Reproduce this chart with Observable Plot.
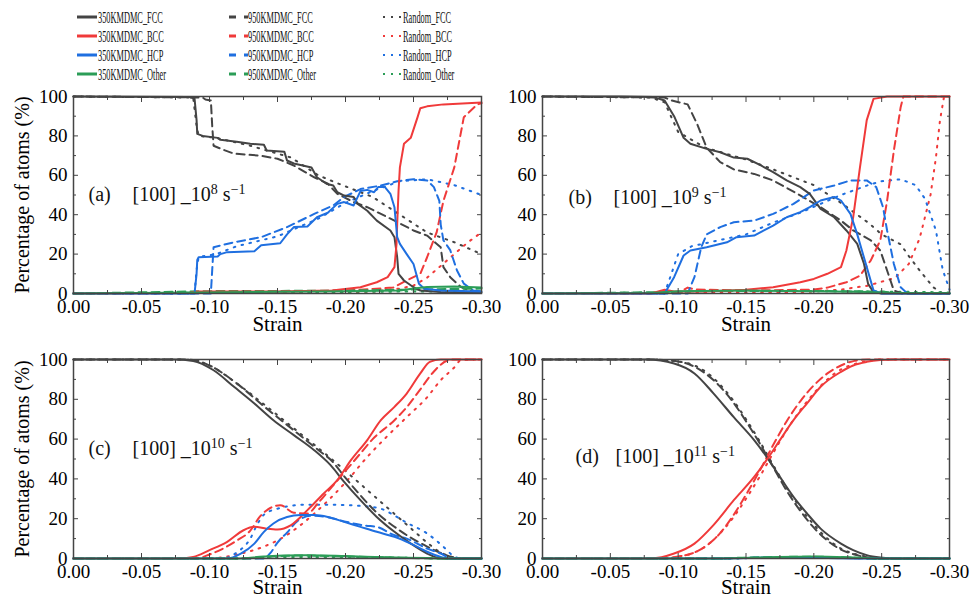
<!DOCTYPE html>
<html><head><meta charset="utf-8">
<script src="https://cdn.jsdelivr.net/npm/d3@7"></script>
<script src="https://cdn.jsdelivr.net/npm/@observablehq/plot@0.6"></script>
<style>
body{margin:0;background:#fff;}
#root{position:relative;width:973px;height:603px;overflow:hidden;font-family:"Liberation Serif","Times New Roman",serif;}
#root > svg{position:absolute;}
</style></head><body><div id="root"></div>
<script>
// ---------- categories ----------
const conditions = ["350KMDMC", "950KMDMC", "Random"];
const phases = ["FCC", "BCC", "HCP", "Other"];
const phaseColors = ["#444444", "#f03a3a", "#1f6fe0", "#2b9d57"];
const conditionDash = [null, "8,5", "1.6,6.5"];
const xMajor = [0, -0.05, -0.10, -0.15, -0.20, -0.25, -0.30];
const xMinor = [-0.025, -0.075, -0.125, -0.175, -0.225, -0.275];
const yMajor = [0, 20, 40, 60, 80, 100];
const yMinor = [10, 30, 50, 70, 90];
const panelTags = ["(a)", "(b)", "(c)", "(d)"];
const rateBase = "[100] _10";
const rateExps = ["8", "9", "10", "11"];
const rateUnit = " s";
const rateUnitExp = "\u22121";
const xLabel = "Strain";
const yLabel = "Percentage of atoms (%)";

// ---------- series: [strain, percentage] ----------
// panel (a) 10^8
const a350FCC = [[0,100],[-0.085,99.8],[-0.089,99],[-0.0905,88],[-0.091,81],[-0.095,80],[-0.106,79],[-0.108,78],[-0.12,77],[-0.13,76],[-0.14,75.5],[-0.142,72.6],[-0.155,72],[-0.157,67.5],[-0.162,66],[-0.175,64],[-0.179,59],[-0.186,55.7],[-0.191,54.8],[-0.194,51.4],[-0.199,49.7],[-0.206,49],[-0.209,45.5],[-0.216,42],[-0.223,37],[-0.233,32],[-0.236,28.6],[-0.238,18.4],[-0.239,10],[-0.243,6.6],[-0.25,3.2],[-0.255,1.5],[-0.27,0.8],[-0.3,0.5]];
const a350BCC = [[0,0],[-0.085,0.3],[-0.09,1],[-0.15,1],[-0.19,1.5],[-0.211,3.2],[-0.223,5.7],[-0.231,8.3],[-0.236,13.4],[-0.2375,25],[-0.238,35],[-0.239,52],[-0.24,64],[-0.243,76],[-0.248,79],[-0.253,89.5],[-0.255,94],[-0.26,95],[-0.272,96],[-0.3,97]];
const a350HCP = [[0,0],[-0.089,0],[-0.0905,10],[-0.091,17],[-0.092,18.4],[-0.106,18.8],[-0.108,20],[-0.113,21],[-0.133,21.5],[-0.138,24.5],[-0.152,25.5],[-0.157,30],[-0.162,33.7],[-0.172,34],[-0.179,38.7],[-0.187,41],[-0.194,45.5],[-0.199,46.4],[-0.206,44.7],[-0.211,52],[-0.216,52.6],[-0.221,51.4],[-0.224,54],[-0.229,54],[-0.233,50.6],[-0.236,43.8],[-0.238,28.6],[-0.24,25.2],[-0.245,20],[-0.25,15],[-0.254,4.9],[-0.258,2.4],[-0.27,1.5],[-0.3,1]];
const a350Other = [[0,0],[-0.09,0.5],[-0.2,1.2],[-0.24,1.5],[-0.25,2.5],[-0.26,3.3],[-0.28,3.5],[-0.3,3]];
const a950FCC = [[0,100],[-0.095,99.5],[-0.097,98.5],[-0.101,98],[-0.102,85],[-0.103,75],[-0.11,73],[-0.118,71],[-0.137,70],[-0.15,68.4],[-0.162,65],[-0.177,59],[-0.187,55.7],[-0.194,50.6],[-0.206,46.4],[-0.216,43.8],[-0.236,37],[-0.25,32],[-0.26,29.4],[-0.27,23.5],[-0.272,13.4],[-0.277,8.3],[-0.285,3.2],[-0.294,0.7],[-0.3,0.3]];
const a950BCC = [[0,0],[-0.1,0.5],[-0.2,1.5],[-0.235,3],[-0.245,6.6],[-0.255,10],[-0.26,18.4],[-0.267,31],[-0.272,47],[-0.28,64],[-0.287,89.5],[-0.297,96],[-0.3,96.5]];
const a950HCP = [[0,0],[-0.101,0],[-0.102,12],[-0.103,23.5],[-0.106,24],[-0.118,26],[-0.138,28.6],[-0.157,33.7],[-0.177,40.4],[-0.191,44.7],[-0.199,49],[-0.211,53],[-0.226,54.8],[-0.238,57],[-0.25,58],[-0.26,57.4],[-0.265,54],[-0.269,47],[-0.27,35],[-0.272,27],[-0.277,22],[-0.282,11.7],[-0.287,5],[-0.294,1.5],[-0.3,1]];
const a950Other = [[0,0],[-0.1,1.2],[-0.15,1.3],[-0.2,1.5],[-0.25,2],[-0.3,2.5]];
const aRndFCC = [[0,100],[-0.088,99.5],[-0.0905,85],[-0.092,80],[-0.105,79],[-0.13,75],[-0.16,69],[-0.18,60],[-0.194,56],[-0.22,49],[-0.24,40],[-0.26,31],[-0.28,26],[-0.3,20]];
const aRndBCC = [[0,0],[-0.2,0.5],[-0.22,1],[-0.24,2.5],[-0.25,4],[-0.26,8],[-0.27,14],[-0.28,20],[-0.29,26],[-0.3,31]];
const aRndHCP = [[0,0],[-0.089,0],[-0.0905,12],[-0.092,18.5],[-0.105,20],[-0.12,24],[-0.15,29],[-0.18,38],[-0.2,46],[-0.22,52],[-0.24,57],[-0.26,58],[-0.28,55],[-0.3,50]];
const aRndOther = [[0,0],[-0.09,0.4],[-0.2,0.8],[-0.3,1.2]];
// panel (b) 10^9
const b350FCC = [[0,100],[-0.058,100],[-0.082,99.7],[-0.09,98],[-0.097,90],[-0.104,79],[-0.109,76],[-0.121,73.4],[-0.131,71.7],[-0.141,69],[-0.151,68.4],[-0.161,65],[-0.17,61.6],[-0.18,57.4],[-0.19,54],[-0.197,50.6],[-0.205,43],[-0.215,38.7],[-0.224,32],[-0.232,25.2],[-0.237,15],[-0.24,4.9],[-0.244,0.7],[-0.25,0],[-0.3,0]];
const b350BCC = [[0,0],[-0.08,0],[-0.09,1.9],[-0.097,1],[-0.12,1],[-0.15,1.9],[-0.17,3.2],[-0.19,5.7],[-0.2,7.4],[-0.21,10],[-0.22,13.4],[-0.224,21.8],[-0.229,38.7],[-0.234,64],[-0.239,88],[-0.244,98.8],[-0.254,100],[-0.3,100]];
const b350HCP = [[0,0],[-0.09,0],[-0.097,8.3],[-0.104,19.3],[-0.109,21.8],[-0.121,23.5],[-0.136,26],[-0.143,28.6],[-0.156,29.4],[-0.17,34.5],[-0.18,38.7],[-0.19,41.3],[-0.197,43.8],[-0.205,47.2],[-0.215,49],[-0.22,47.2],[-0.227,40.4],[-0.232,30],[-0.239,13.4],[-0.244,1.5],[-0.25,0],[-0.3,0]];
const b350Other = [[0,0],[-0.08,0.3],[-0.1,1.2],[-0.15,1.5],[-0.2,1.2],[-0.24,0.8],[-0.26,0.3],[-0.3,0.2]];
const b950FCC = [[0,100],[-0.09,99.5],[-0.095,98],[-0.107,96],[-0.114,86],[-0.121,74],[-0.131,66.7],[-0.141,63],[-0.156,60.7],[-0.17,57.4],[-0.188,50.6],[-0.205,43.8],[-0.22,37],[-0.229,32],[-0.242,27],[-0.249,21.8],[-0.254,11.7],[-0.259,1.5],[-0.265,0],[-0.3,0]];
const b950BCC = [[0,0],[-0.1,0.3],[-0.107,3],[-0.112,2],[-0.15,1.5],[-0.2,2],[-0.21,3],[-0.224,5.7],[-0.234,9],[-0.242,16.8],[-0.249,27],[-0.254,47],[-0.259,72.6],[-0.264,94.6],[-0.266,100],[-0.3,100]];
const b950HCP = [[0,0],[-0.107,0],[-0.112,8.3],[-0.117,23.5],[-0.121,30],[-0.131,33.7],[-0.141,36.2],[-0.156,37],[-0.17,40.4],[-0.185,45.5],[-0.2,52.3],[-0.215,54.8],[-0.227,57.4],[-0.239,57.4],[-0.246,54],[-0.251,43.8],[-0.254,32],[-0.259,15],[-0.264,3.2],[-0.269,0],[-0.3,0]];
const b950Other = [[0,0],[-0.1,0.8],[-0.12,1.3],[-0.2,1.3],[-0.25,1],[-0.26,0.2],[-0.3,0]];
const bRndFCC = [[0,100],[-0.08,99.5],[-0.09,97],[-0.1,82],[-0.12,74],[-0.15,68],[-0.17,63],[-0.2,55],[-0.22,46],[-0.24,36],[-0.25,30],[-0.264,25],[-0.27,19],[-0.278,11.7],[-0.288,3.2],[-0.295,0],[-0.3,0]];
const bRndBCC = [[0,0],[-0.18,0.5],[-0.2,1],[-0.22,2],[-0.24,4],[-0.26,8],[-0.27,15],[-0.278,28],[-0.286,50],[-0.29,69],[-0.293,88],[-0.296,100],[-0.3,100]];
const bRndHCP = [[0,0],[-0.09,0],[-0.095,10],[-0.1,20],[-0.11,24],[-0.13,27],[-0.15,30],[-0.17,36],[-0.19,41],[-0.2,44],[-0.22,50],[-0.24,55],[-0.25,57],[-0.264,58],[-0.275,55],[-0.282,48],[-0.29,32],[-0.295,12],[-0.3,2]];
const bRndOther = [[0,0],[-0.09,0.5],[-0.12,1.3],[-0.2,1.2],[-0.28,0.8],[-0.3,0.5]];
// panel (c) 10^10
const c350FCC = [[0,100],[-0.074,100],[-0.088,99.3],[-0.103,94.6],[-0.118,86.3],[-0.133,77.9],[-0.147,69.5],[-0.162,62],[-0.177,54.4],[-0.189,46.9],[-0.199,38.5],[-0.211,29.3],[-0.223,20.9],[-0.236,13.4],[-0.248,7.5],[-0.26,2.5],[-0.267,0.5],[-0.275,0],[-0.3,0]];
const c350BCC = [[0,0],[-0.076,0],[-0.088,0.8],[-0.1,4.2],[-0.113,8.4],[-0.125,14.2],[-0.133,15.9],[-0.142,15],[-0.15,14.6],[-0.16,16.8],[-0.172,24.3],[-0.184,32.7],[-0.194,39.4],[-0.204,49.4],[-0.216,59.5],[-0.226,69.5],[-0.236,76.2],[-0.245,82.9],[-0.255,93],[-0.262,98.8],[-0.27,100],[-0.3,100]];
const c350HCP = [[0,0],[-0.113,0],[-0.123,2.5],[-0.133,7.5],[-0.14,13.4],[-0.147,17.6],[-0.157,20.9],[-0.167,21.8],[-0.177,21.8],[-0.187,20.9],[-0.199,18.4],[-0.211,15.9],[-0.223,13.4],[-0.236,10.9],[-0.248,7.5],[-0.26,3.4],[-0.27,0.8],[-0.275,0],[-0.3,0]];
const c350Other = [[0,0],[-0.12,0],[-0.14,1],[-0.155,1.5],[-0.175,1.6],[-0.2,1.2],[-0.23,0.6],[-0.26,0.2],[-0.27,0],[-0.3,0]];
const c950FCC = [[0,100],[-0.08,100],[-0.09,99.5],[-0.1,97],[-0.12,88],[-0.14,76.5],[-0.16,65.5],[-0.18,54.5],[-0.19,49],[-0.2,40.5],[-0.21,32.5],[-0.22,25],[-0.24,14],[-0.26,6],[-0.27,2.8],[-0.28,0.5],[-0.285,0],[-0.3,0]];
const c950BCC = [[0,0],[-0.09,0],[-0.1,2],[-0.11,5],[-0.12,9],[-0.13,14],[-0.137,21],[-0.145,25.5],[-0.152,26.8],[-0.162,23],[-0.172,22.6],[-0.18,28],[-0.19,36],[-0.2,44],[-0.21,52],[-0.22,60],[-0.236,69.5],[-0.245,76],[-0.255,85],[-0.265,94],[-0.275,99.5],[-0.28,100],[-0.3,100]];
const c950HCP = [[0,0],[-0.14,0],[-0.145,3],[-0.15,8],[-0.157,13],[-0.165,19],[-0.175,21.5],[-0.185,21],[-0.2,18.5],[-0.215,16.5],[-0.223,15.9],[-0.235,12],[-0.245,10],[-0.26,5],[-0.27,2.5],[-0.278,0],[-0.3,0]];
const c950Other = [[0,0],[-0.13,0],[-0.15,1.2],[-0.165,1.5],[-0.2,1],[-0.24,0.4],[-0.27,0],[-0.3,0]];
const cRndFCC = [[0,100],[-0.08,100],[-0.1,97],[-0.12,88],[-0.14,77.5],[-0.16,66.5],[-0.18,55.5],[-0.2,44],[-0.21,38],[-0.22,32],[-0.23,26],[-0.24,20],[-0.25,14],[-0.26,8],[-0.27,3],[-0.28,0.5],[-0.285,0],[-0.3,0]];
const cRndBCC = [[0,0],[-0.1,0],[-0.12,2],[-0.14,6],[-0.155,11],[-0.167,16.8],[-0.187,29],[-0.201,39],[-0.216,51],[-0.23,61],[-0.245,71],[-0.26,81],[-0.27,89.6],[-0.28,96],[-0.285,99.7],[-0.3,100]];
const cRndHCP = [[0,0],[-0.11,0],[-0.12,3],[-0.13,10],[-0.135,17],[-0.14,22],[-0.15,25],[-0.17,27],[-0.19,27],[-0.21,26.5],[-0.226,25],[-0.235,22],[-0.245,18],[-0.26,12.6],[-0.272,5.9],[-0.28,1],[-0.285,0],[-0.3,0]];
const cRndOther = [[0,0],[-0.12,0],[-0.15,0.8],[-0.2,0.8],[-0.25,0.3],[-0.28,0],[-0.3,0]];
// panel (d) 10^11
const d350FCC = [[0,100],[-0.077,100],[-0.097,98],[-0.112,93],[-0.126,83],[-0.141,71],[-0.156,59.5],[-0.166,50.3],[-0.175,41],[-0.185,31],[-0.195,22.6],[-0.205,15],[-0.22,7.5],[-0.229,4.2],[-0.239,1.7],[-0.249,0.5],[-0.26,0],[-0.3,0]];
const d350BCC = [[0,0],[-0.08,0],[-0.097,2.5],[-0.112,7.5],[-0.126,16.8],[-0.141,29.3],[-0.156,41],[-0.166,50.3],[-0.175,59.5],[-0.185,69.5],[-0.195,78],[-0.205,86.3],[-0.22,93.8],[-0.229,97],[-0.239,98.8],[-0.249,99.7],[-0.26,100],[-0.3,100]];
const d350HCP = [[0,0],[-0.12,0],[-0.15,0.3],[-0.18,0.5],[-0.21,0.3],[-0.24,0],[-0.3,0]];
const d350Other = [[0,0],[-0.12,0],[-0.16,0.5],[-0.2,1],[-0.23,0.5],[-0.25,0],[-0.3,0]];
const d950FCC = [[0,100],[-0.08,100],[-0.1,99],[-0.11,97],[-0.12,93],[-0.13,87],[-0.14,79],[-0.15,69],[-0.16,58],[-0.17,46],[-0.18,34],[-0.19,24],[-0.2,15.5],[-0.21,9],[-0.22,4.5],[-0.23,2],[-0.24,0.5],[-0.25,0],[-0.3,0]];
const d950BCC = [[0,0],[-0.09,0],[-0.1,1],[-0.11,2.5],[-0.12,6],[-0.13,12],[-0.14,21],[-0.15,32],[-0.16,44],[-0.17,57],[-0.18,69],[-0.19,79],[-0.2,87],[-0.21,93],[-0.22,97],[-0.23,99.3],[-0.24,100],[-0.3,100]];
const d950HCP = [[0,0],[-0.13,0],[-0.16,0.4],[-0.19,0.6],[-0.22,0.3],[-0.25,0],[-0.3,0]];
const d950Other = [[0,0],[-0.12,0],[-0.16,0.6],[-0.2,0.9],[-0.23,0.4],[-0.25,0],[-0.3,0]];
const dRndFCC = [[0,100],[-0.08,100],[-0.1,99],[-0.11,97.5],[-0.12,94],[-0.13,88],[-0.14,80],[-0.15,70],[-0.16,59],[-0.17,47],[-0.18,35.5],[-0.19,25.5],[-0.2,17],[-0.21,10],[-0.22,5],[-0.23,2.3],[-0.24,0.8],[-0.25,0],[-0.3,0]];
const dRndBCC = [[0,0],[-0.09,0],[-0.1,1],[-0.11,2.5],[-0.12,6],[-0.13,12],[-0.14,20],[-0.15,30],[-0.16,41],[-0.17,53],[-0.18,64.5],[-0.19,74.5],[-0.2,83],[-0.21,90],[-0.22,95],[-0.23,97.7],[-0.24,99.2],[-0.25,100],[-0.3,100]];
const dRndHCP = [[0,0],[-0.13,0],[-0.17,0.4],[-0.2,0.5],[-0.23,0.2],[-0.25,0],[-0.3,0]];
const dRndOther = [[0,0],[-0.12,0],[-0.17,0.5],[-0.2,0.8],[-0.23,0.4],[-0.25,0],[-0.3,0]];

const panelSeries = [
  [[a350FCC,a350BCC,a350HCP,a350Other],[a950FCC,a950BCC,a950HCP,a950Other],[aRndFCC,aRndBCC,aRndHCP,aRndOther]],
  [[b350FCC,b350BCC,b350HCP,b350Other],[b950FCC,b950BCC,b950HCP,b950Other],[bRndFCC,bRndBCC,bRndHCP,bRndOther]],
  [[c350FCC,c350BCC,c350HCP,c350Other],[c950FCC,c950BCC,c950HCP,c950Other],[cRndFCC,cRndBCC,cRndHCP,cRndOther]],
  [[d350FCC,d350BCC,d350HCP,d350Other],[d950FCC,d950BCC,d950HCP,d950Other],[dRndFCC,dRndBCC,dRndHCP,dRndOther]]
];

// ---------- layout (styles only) ----------
const boxes = [
  {left:0,   top:86,  width:490, height:245, mL:73, mR:9,  mT:10, mB:38, curve:"linear",     tagDx:15, rateDx:59, labDy:0,   strainDy:31, ylab:true},
  {left:490, top:86,  width:483, height:245, mL:52, mR:24, mT:10, mB:38, curve:"linear",     tagDx:26, rateDx:71, labDy:3,   strainDy:31, ylab:false},
  {left:0,   top:349, width:490, height:254, mL:73, mR:9,  mT:10, mB:45, curve:"monotone-x", tagDx:15, rateDx:59, labDy:-10, strainDy:29, ylab:true},
  {left:490, top:349, width:483, height:254, mL:52, mR:24, mT:10, mB:45, curve:"monotone-x", tagDx:33, rateDx:73, labDy:-2,  strainDy:29, ylab:false}
];
const ink = "#444";
const fmtStrain = d => d === 0 ? "0.00" : "-" + Math.abs(d).toFixed(2);
const blank = () => "";
const svgNS = "http://www.w3.org/2000/svg";

const root = document.getElementById("root");

boxes.forEach((bx, pi) => {
  const lineMarks = [];
  // draw Random, then 950K, then 350K on top
  [2, 1, 0].forEach(ci => {
    const rows = [];
    phases.forEach((ph, k) => {
      panelSeries[pi][ci][k].forEach(([s, v]) => rows.push({strain: s, value: v, phase: ph}));
    });
    lineMarks.push(Plot.line(rows, {
      x: "strain", y: "value", z: "phase", stroke: "phase",
      strokeWidth: 2,
      strokeDasharray: conditionDash[ci],
      curve: bx.curve
    }));
  });
  const rateText = rateBase + rateExps[pi] + rateUnit + rateUnitExp;
  const marks = [
    ...lineMarks,
    Plot.frame({stroke: ink, strokeWidth: 1.5}),
    Plot.axisX(xMajor, {anchor: "bottom", tickSize: -5, tickPadding: 11, tickFormat: fmtStrain, stroke: ink, fill: "#000", label: null}),
    Plot.axisX(xMinor, {anchor: "bottom", tickSize: -3, tickFormat: blank, stroke: ink, label: null}),
    Plot.axisX(xMajor, {anchor: "top", tickSize: -5, tickFormat: blank, stroke: ink, label: null}),
    Plot.axisX(xMinor, {anchor: "top", tickSize: -3, tickFormat: blank, stroke: ink, label: null}),
    Plot.axisY(yMajor, {anchor: "left", tickSize: -5, tickPadding: 11, tickFormat: d => String(d), stroke: ink, fill: "#000", label: null}),
    Plot.axisY(yMinor, {anchor: "left", tickSize: -3, tickFormat: blank, stroke: ink, label: null}),
    Plot.axisY(yMajor, {anchor: "right", tickSize: -5, tickFormat: blank, stroke: ink, label: null}),
    Plot.axisY(yMinor, {anchor: "right", tickSize: -3, tickFormat: blank, stroke: ink, label: null}),
    Plot.text([panelTags[pi]], {frameAnchor: "left", dx: bx.tagDx, dy: bx.labDy, textAnchor: "start", lineAnchor: "middle", fontSize: 20, fill: "#111"}),
    Plot.text([rateText], {frameAnchor: "left", dx: bx.rateDx, dy: bx.labDy, textAnchor: "start", lineAnchor: "middle", fontSize: 20, fill: "#111"}),
    Plot.text([xLabel], {frameAnchor: "bottom", dy: bx.strainDy, textAnchor: "middle", lineAnchor: "middle", fontSize: 21, fill: "#000"})
  ];
  if (bx.ylab) marks.push(Plot.text([yLabel], {frameAnchor: "left", dx: -51, rotate: -90, textAnchor: "middle", lineAnchor: "middle", fontSize: 20, fill: "#000"}));
  const chart = Plot.plot({
    width: bx.width, height: bx.height,
    marginLeft: bx.mL, marginRight: bx.mR, marginTop: bx.mT, marginBottom: bx.mB,
    x: {domain: [0, -0.30]},
    y: {domain: [0, 100]},
    color: {domain: phases, range: phaseColors},
    style: {fontFamily: '"Liberation Serif", "Times New Roman", serif', fontSize: "19px", background: "transparent", overflow: "visible", color: "#000"},
    marks
  });
  // rich text: superscripts for the strain-rate label
  chart.querySelectorAll("text").forEach(el => {
    if (el.textContent !== rateText) return;
    el.textContent = "";
    const parts = [
      {t: rateBase, sup: false},
      {t: rateExps[pi], sup: true},
      {t: rateUnit, sup: false, down: true},
      {t: rateUnitExp, sup: true}
    ];
    parts.forEach(p => {
      const ts = document.createElementNS(svgNS, "tspan");
      ts.textContent = p.t;
      if (p.sup) { ts.setAttribute("font-size", "14"); ts.setAttribute("dy", "-7"); }
      if (p.down) ts.setAttribute("dy", "7");
      el.appendChild(ts);
    });
  });
  chart.style.position = "absolute";
  chart.style.left = bx.left + "px";
  chart.style.top = bx.top + "px";
  root.appendChild(chart);
});

// ---------- legend ----------
const legendLineX = [77, 229, 383];
const legendLineLen = [20, 19, 18];
const legendTextX = [98, 248, 403];
const legendRowY = [17, 36, 55, 74];
const legendDash = [null, "7,8", "2,6"];
const legendWidth = [3, 3, 2.2];
const legend = d3.select(root).append("svg")
  .attr("width", 973).attr("height", 90)
  .style("left", "0px").style("top", "0px");
conditions.forEach((c, ci) => {
  phases.forEach((ph, k) => {
    const y = legendRowY[k];
    legend.append("line")
      .attr("x1", legendLineX[ci]).attr("x2", legendLineX[ci] + legendLineLen[ci])
      .attr("y1", y).attr("y2", y)
      .attr("stroke", phaseColors[k]).attr("stroke-width", legendWidth[ci])
      .attr("stroke-dasharray", legendDash[ci]);
    const t = legend.append("text")
      .attr("x", legendTextX[ci]).attr("y", y)
      .attr("dy", "0.35em")
      .attr("font-family", '"Liberation Serif", "Times New Roman", serif')
      .attr("font-size", 17).attr("fill", "#111")
      .text(c + "_" + ph);
    const w = t.node().getComputedTextLength();
    t.attr("textLength", w * 0.49).attr("lengthAdjust", "spacingAndGlyphs");
  });
});
</script>
</body></html>
